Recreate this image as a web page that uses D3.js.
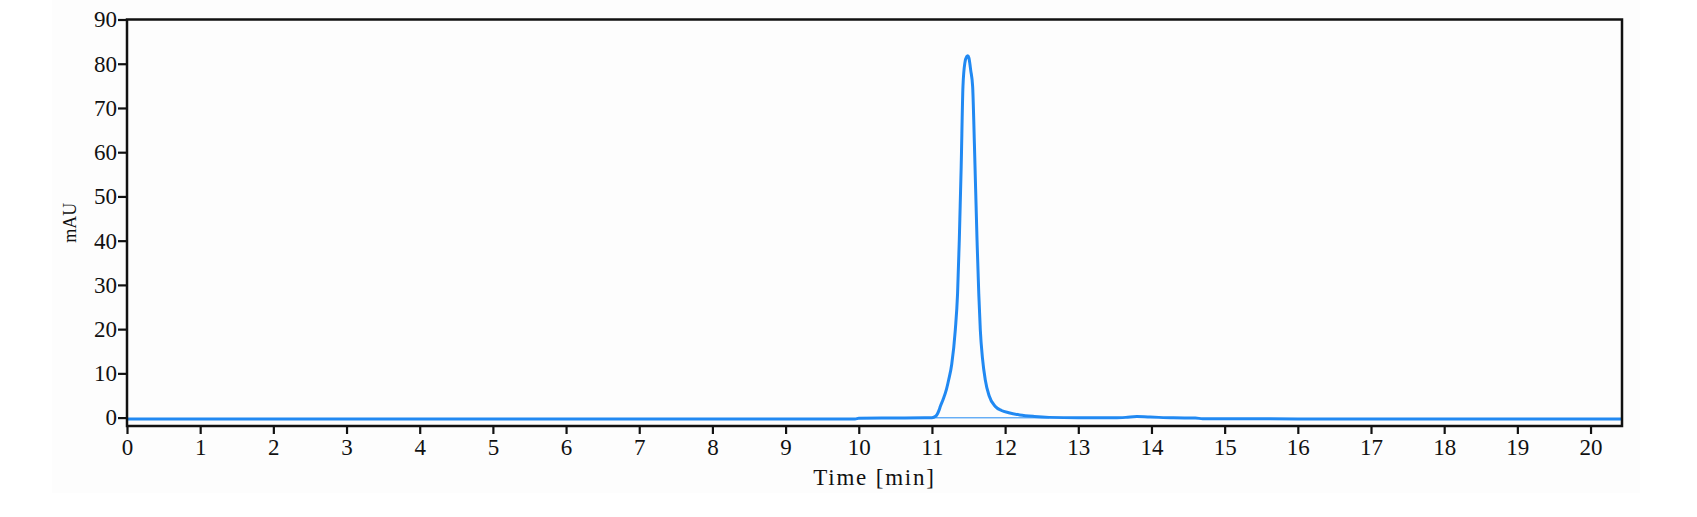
<!DOCTYPE html>
<html>
<head>
<meta charset="utf-8">
<script src="https://cdn.jsdelivr.net/npm/d3@7"></script>
<style>
  html, body { margin: 0; padding: 0; background: #ffffff; }
  svg { display: block; }
</style>
</head>
<body>
<svg id="chart" width="1697" height="517"></svg>
<script>
// ---- Data ----
const timeMin = [0, 2, 4, 6, 8, 9.95, 10.0, 10.5, 10.9, 11.0, 11.05, 11.1, 11.114, 11.15, 11.2, 11.228, 11.27,
  11.319, 11.35, 11.374, 11.40, 11.424, 11.45, 11.475, 11.49, 11.505, 11.53, 11.556, 11.58, 11.616,
  11.64, 11.661, 11.69, 11.729, 11.78, 11.866, 11.95, 12.05, 12.2, 12.4, 12.6, 13.0, 13.5, 13.65,
  13.8, 13.95, 14.1, 14.3, 14.6, 14.7, 16, 18, 20.43];
const signalMAU = [-0.3, -0.3, -0.3, -0.3, -0.3, -0.3, -0.15, -0.1, -0.05, -0.02, 0.3, 1.8, 2.5, 4.0, 6.5, 8.5, 12,
  19.8, 28, 40.2, 57, 74.9, 80.2, 81.6, 81.8, 81.3, 78.5, 74.9, 62, 40.2,
  28, 19.8, 13.5, 8.5, 5.0, 2.5, 1.6, 1.1, 0.6, 0.25, 0.05, -0.05, -0.05, 0.05,
  0.25, 0.15, 0.05, -0.05, -0.1, -0.25, -0.3, -0.3, -0.3];
// integration baseline under the peak
const baselineTime = [11.02, 12.6];
const baselineMAU = [-0.05, -0.05];
const xTicks = d3.range(0, 21, 1);
const yTicks = d3.range(0, 91, 10);
const xLabel = "Time [min]";
const yLabel = "mAU";

// ---- Layout ----
const svg = d3.select("#chart");
const mLeft = 127, mRight = 1622, mTop = 19.5, mBottom = 426;

svg.append("rect").attr("x", 52).attr("y", 0).attr("width", 1588).attr("height", 493)
  .attr("fill", "#fdfdfd");

const x = d3.scaleLinear().domain([0, 20.43]).range([mLeft, mRight]);
const y = d3.scaleLinear().domain([-1.9, 90]).range([mBottom, mTop]);

const font = "'Liberation Serif', 'DejaVu Serif', serif";

// signal
const line = d3.line().x((d, i) => x(timeMin[i])).y(d => y(d)).curve(d3.curveMonotoneX);
svg.append("path").datum(signalMAU).attr("d", line)
  .attr("fill", "none").attr("stroke", "#2189f2").attr("stroke-width", 3)
  .attr("stroke-linejoin", "round");

const bline = d3.line().x((d, i) => x(baselineTime[i])).y(d => y(d));
svg.append("path").datum(baselineMAU).attr("d", bline)
  .attr("fill", "none").attr("stroke", "#2189f2").attr("stroke-width", 1);

// axes
const xAxis = d3.axisBottom(x).tickValues(xTicks).tickFormat(d3.format("d")).tickSizeOuter(0).tickSize(8).tickPadding(5);
const gx = svg.append("g").attr("transform", `translate(0,${mBottom})`).call(xAxis);
const yAxis = d3.axisLeft(y).tickValues(yTicks).tickFormat(d3.format("d")).tickSizeOuter(0).tickSize(9).tickPadding(1);
const gy = svg.append("g").attr("transform", `translate(${mLeft},0)`).call(yAxis);

[gx, gy].forEach(g => {
  g.select(".domain").remove();
  g.selectAll(".tick line").attr("stroke", "#111").attr("stroke-width", 2.2);
  g.selectAll(".tick text").attr("fill", "#111").style("font-family", font).style("font-size", "23px");
});

// frame
svg.append("rect").attr("x", mLeft).attr("y", mTop).attr("width", mRight - mLeft).attr("height", mBottom - mTop)
  .attr("fill", "none").attr("stroke", "#111").attr("stroke-width", 2.5);

// labels
svg.append("text").attr("x", (mLeft + mRight) / 2).attr("y", 485).attr("text-anchor", "middle")
  .style("font-family", font).style("font-size", "23px").style("letter-spacing", "1.8px")
  .attr("fill", "#111").text(xLabel);
svg.append("text").attr("transform", `translate(76,${(mTop + mBottom) / 2}) rotate(-90)`)
  .attr("text-anchor", "middle").style("font-family", font).style("font-size", "18px")
  .attr("fill", "#111").text(yLabel);
</script>
</body>
</html>
